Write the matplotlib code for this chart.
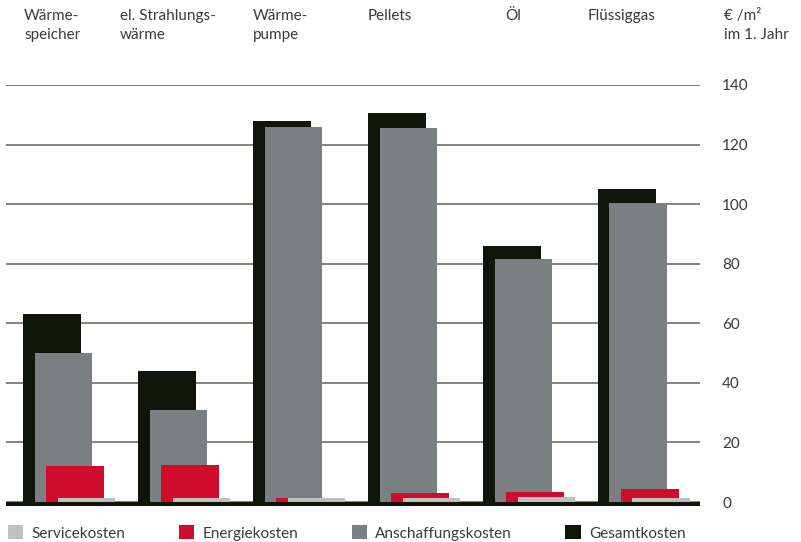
import matplotlib.pyplot as plt

plt.rcParams['font.family'] = ['Lato', 'DejaVu Sans']

heizungen = ['Wärme-\nspeicher', 'el. Strahlungs-\nwärme', 'Wärme-\npumpe', 'Pellets', 'Öl', 'Flüssiggas']
gesamt = [63, 44, 128, 130.5, 86, 105]
anschaffung = [50, 31, 126, 125.5, 81.5, 100.5]
energie = [12, 12.5, 1.5, 3, 3.5, 4.5]
service = [1.5, 1.5, 1.5, 1.5, 1.8, 1.5]
yticks = [0, 20, 40, 60, 80, 100, 120, 140]

c_gesamt = '#10150a'
c_ansch = '#7a8082'
c_energie = '#d00c2c'
c_service = '#c0c0c0'
txt = '#3a3a3a'

fig = plt.figure(figsize=(8.01, 5.42), dpi=100)
W, H = 801, 542
# y=0 bei Pixel 502, y=140 bei Pixel 85
ax = fig.add_axes([6/W, 35.5/H, 694/W, 421.5/H])

x = range(len(heizungen))
start = 0.148
w = 0.504
off = 0.1
xs = [start + i for i in x]
ax.bar([v for v in xs], gesamt, width=w, align='edge', color=c_gesamt, label='Gesamtkosten', zorder=2)
ax.bar([v + off for v in xs], anschaffung, width=w, align='edge', color=c_ansch, label='Anschaffungskosten', zorder=3)
ax.bar([v + 2*off for v in xs], energie, width=w, align='edge', color=c_energie, label='Energiekosten', zorder=4)
ax.bar([v + 3*off for v in xs], service, width=w, align='edge', color=c_service, label='Servicekosten', zorder=5)

ax.set_xlim(0, 6.035)
ax.set_ylim(-1.5, 140)
ax.set_yticks(yticks)
ax.yaxis.tick_right()
ax.tick_params(axis='y', length=0, pad=16, labelsize=11, labelcolor=txt)
ax.tick_params(axis='x', length=0, labelbottom=False)
ax.yaxis.grid(True, color='#6e6e66', linewidth=1.2, zorder=0)
ax.set_axisbelow(True)
for s in ax.spines.values():
    s.set_visible(False)
ax.axhline(-0.67, color=c_gesamt, linewidth=2.9, zorder=6)

# Kategorien oben
label_x = [24, 120, 253, 368, 505, 588]
for lx, name in zip(label_x, heizungen):
    fig.text(lx/W, 1 - 9/H, name, ha='left', va='top', fontsize=11, color=txt, linespacing=1.45)
fig.text(724/W, 1 - 9/H, '€ /m²\nim 1. Jahr', ha='left', va='top', fontsize=11, color=txt, linespacing=1.45)

h, l = ax.get_legend_handles_labels()
fig.legend(h[::-1], l[::-1], loc='center left', bbox_to_anchor=(0/W, 9/H), ncol=4,
           frameon=False, fontsize=11, handlelength=1.0, handleheight=1.0,
           handletextpad=0.55, columnspacing=3.5, borderpad=0, labelcolor=txt)

fig.savefig('out.png', dpi=100)
